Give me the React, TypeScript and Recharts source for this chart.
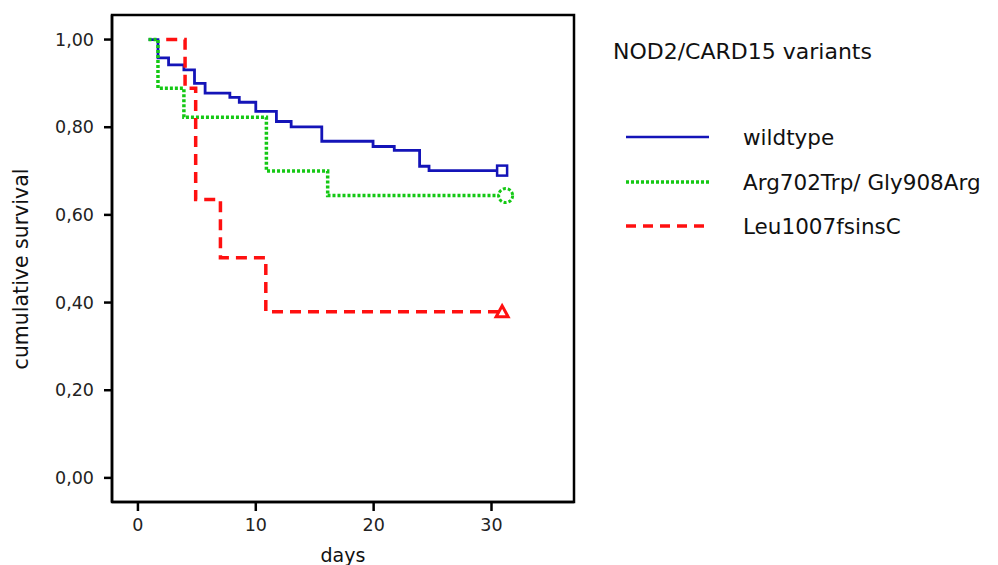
import { ComposedChart, Line, Scatter, XAxis, YAxis, Legend, Label, ReferenceArea } from "recharts"

const dayTicks = [0, 10, 20, 30]
const survTicks = [0, 0.2, 0.4, 0.6, 0.8, 1.0]
const dayDomain = [-2.2, 37]
const survDomain = [-0.055, 1.056]

const seriesNames = ["wildtype", "Arg702Trp/ Gly908Arg", "Leu1007fsinsC"]

// Kaplan-Meier steps
const wildtypeDays = [0.9, 1.7, 2.6, 3.9, 4.8, 5.7, 7.8, 8.6, 10.0, 11.75, 13.0, 15.6, 19.95, 21.75, 23.9, 24.7, 30.9]
const wildtypeSurv = [1.0, 0.958, 0.942, 0.931, 0.9, 0.878, 0.868, 0.857, 0.836, 0.813, 0.801, 0.768, 0.756, 0.747, 0.711, 0.701, 0.701]

const argGlyDays = [0.9, 1.7, 3.9, 10.9, 16.1, 31.2]
const argGlySurv = [1.0, 0.889, 0.823, 0.7, 0.644, 0.644]

const leuDays = [2.4, 4.0, 4.9, 7.0, 10.85, 30.9]
const leuSurv = [1.0, 0.889, 0.635, 0.502, 0.379, 0.379]

// censored end points
const censorDays = [30.9, 31.2, 30.9]
const censorSurv = [0.701, 0.644, 0.379]

const BLUE = "#1414b8"
const GREEN = "#14c814"
const RED = "#ff1010"
const FONT = "'DejaVu Sans', sans-serif"

const rows = (days: number[], surv: number[]) => days.map((d, i) => ({ day: d, surv: surv[i] }))

const fmt = (v: number) => v.toFixed(2).replace(".", ",")

const Square = (p: any) => (
  <rect x={p.cx - 5} y={p.cy - 5} width={10} height={10} fill="#fff" stroke={BLUE} strokeWidth={2.5} />
)
const Circle = (p: any) => (
  <circle cx={p.cx} cy={p.cy} r={7} fill="#fff" stroke={GREEN} strokeWidth={3} strokeDasharray="3 2" />
)
const Triangle = (p: any) => (
  <polygon
    points={`${p.cx},${p.cy - 6} ${p.cx + 6},${p.cy + 5} ${p.cx - 6},${p.cy + 5}`}
    fill="#fff"
    stroke={RED}
    strokeWidth={3}
  />
)

const legendStyles = [
  { color: BLUE, dash: undefined, width: 2.5 },
  { color: GREEN, dash: "3 2", width: 3.5 },
  { color: RED, dash: "10 7", width: 3.5 },
]
const legendY = [137, 182, 226]

function LegendBox() {
  return (
    <svg width={398} height={250} style={{ display: "block" }}>
      <text x={13} y={59} fontFamily={FONT} fontSize={22} fill="#111">
        NOD2/CARD15 variants
      </text>
      {seriesNames.map((name, i) => (
        <g key={name}>
          <line
            x1={26}
            x2={109}
            y1={legendY[i]}
            y2={legendY[i]}
            stroke={legendStyles[i].color}
            strokeWidth={legendStyles[i].width}
            strokeDasharray={legendStyles[i].dash}
          />
          <text x={143} y={legendY[i] + 8} fontFamily={FONT} fontSize={21.5} fill="#111">
            {name}
          </text>
        </g>
      ))}
    </svg>
  )
}

export default function App() {
  return (
    <div style={{ position: "absolute", left: 0, top: 0, background: "#fff" }}>
      <ComposedChart width={998} height={565} margin={{ top: 15, right: 424, bottom: 0, left: 0 }}>
        <XAxis
          xAxisId="b"
          dataKey="day"
          type="number"
          domain={dayDomain}
          ticks={dayTicks}
          allowDataOverflow
          height={63}
          tickSize={9}
          tickMargin={8}
          axisLine={{ stroke: "#000", strokeWidth: 2.5 }}
          tickLine={{ stroke: "#000", strokeWidth: 2.5 }}
          tick={{ fill: "#222", fontSize: 17.5, fontFamily: FONT }}
        >
          <Label
            content={() => (
              <text x={343} y={562} textAnchor="middle" fontFamily={FONT} fontSize={19} fill="#111">
                days
              </text>
            )}
          />
        </XAxis>
        <YAxis
          yAxisId="l"
          type="number"
          domain={survDomain}
          ticks={survTicks}
          allowDataOverflow
          width={112}
          tickSize={8}
          tickMargin={10}
          tickFormatter={fmt}
          axisLine={{ stroke: "#000", strokeWidth: 2.5 }}
          tickLine={{ stroke: "#000", strokeWidth: 2.5 }}
          tick={{ fill: "#222", fontSize: 17.5, fontFamily: FONT }}
        >
          <Label
            content={() => (
              <text
                x={21}
                y={269}
                transform="rotate(-90 21 269)"
                textAnchor="middle"
                dominantBaseline="central"
                fontFamily={FONT}
                fontSize={20.5}
                fill="#111"
              >
                cumulative survival
              </text>
            )}
          />
        </YAxis>
        <ReferenceArea
          xAxisId="b"
          yAxisId="l"
          x1={dayDomain[0]}
          x2={dayDomain[1]}
          y1={survDomain[0]}
          y2={survDomain[1]}
          ifOverflow="visible"
          fill="none"
          stroke="#000"
          strokeWidth={2.5}
        />
        <Line
          xAxisId="b"
          yAxisId="l"
          data={rows(wildtypeDays, wildtypeSurv)}
          dataKey="surv"
          name={seriesNames[0]}
          type="stepAfter"
          stroke={BLUE}
          strokeWidth={2.8}
          dot={false}
          isAnimationActive={false}
        />
        <Line
          xAxisId="b"
          yAxisId="l"
          data={rows(argGlyDays, argGlySurv)}
          dataKey="surv"
          name={seriesNames[1]}
          type="stepAfter"
          stroke={GREEN}
          strokeWidth={3.5}
          strokeDasharray="3 2"
          dot={false}
          isAnimationActive={false}
        />
        <Line
          xAxisId="b"
          yAxisId="l"
          data={rows(leuDays, leuSurv)}
          dataKey="surv"
          name={seriesNames[2]}
          type="stepAfter"
          stroke={RED}
          strokeWidth={3.5}
          strokeDasharray="11 7"
          dot={false}
          isAnimationActive={false}
        />
        <Scatter
          xAxisId="b"
          yAxisId="l"
          data={[{ day: censorDays[0], surv: censorSurv[0] }]}
          dataKey="surv"
          shape={Square}
          isAnimationActive={false}
        />
        <Scatter
          xAxisId="b"
          yAxisId="l"
          data={[{ day: censorDays[1], surv: censorSurv[1] }]}
          dataKey="surv"
          shape={Circle}
          isAnimationActive={false}
        />
        <Scatter
          xAxisId="b"
          yAxisId="l"
          data={[{ day: censorDays[2], surv: censorSurv[2] }]}
          dataKey="surv"
          shape={Triangle}
          isAnimationActive={false}
        />
        <Legend
          layout="vertical"
          align="center"
          verticalAlign="middle"
          wrapperStyle={{ left: 600, top: 0, width: 398, height: 250 }}
          content={() => <LegendBox />}
        />
      </ComposedChart>
    </div>
  )
}
